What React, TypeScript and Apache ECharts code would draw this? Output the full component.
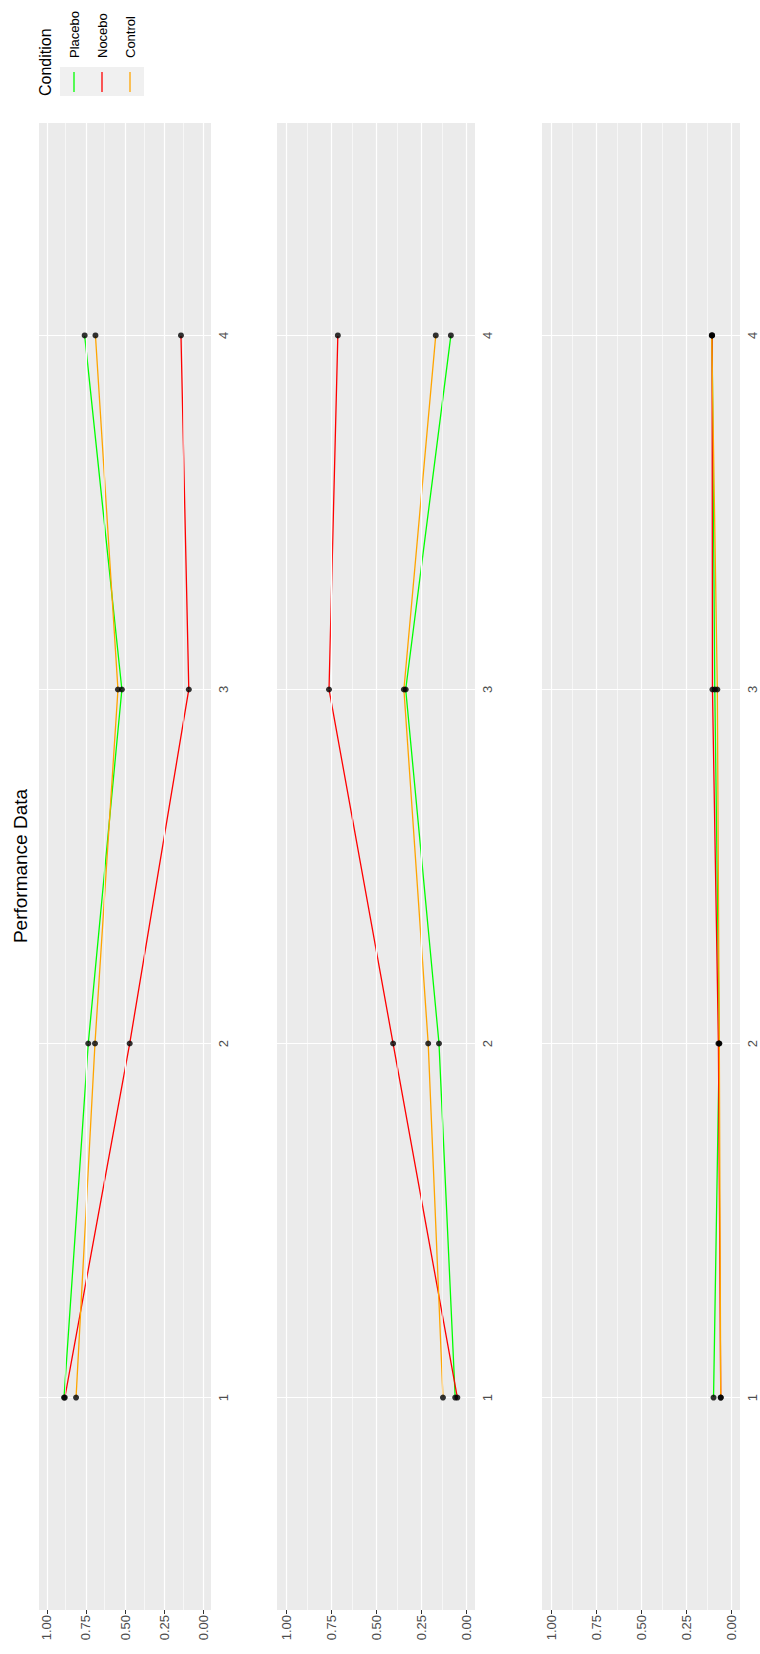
import React, { useEffect, useRef } from 'react';
import * as echarts from 'echarts';

// ---- data ----
const categories = [1, 2, 3, 4];
const valueTicks = [0, 0.25, 0.5, 0.75, 1];
const minorValueTicks = [0.125, 0.375, 0.625, 0.875];
const conditions = ['Placebo', 'Nocebo', 'Control'];
const conditionColors = ['#00FF00', '#FF0000', '#FFA500'];

const panel1Placebo = [0.89, 0.735, 0.52, 0.758];
const panel1Nocebo = [0.885, 0.47, 0.092, 0.142];
const panel1Control = [0.813, 0.692, 0.545, 0.689];

const panel2Placebo = [0.06, 0.15, 0.335, 0.084];
const panel2Nocebo = [0.048, 0.405, 0.761, 0.712];
const panel2Control = [0.128, 0.21, 0.345, 0.168];

const panel3Placebo = [0.097, 0.065, 0.09, 0.105];
const panel3Nocebo = [0.057, 0.07, 0.103, 0.105];
const panel3Control = [0.057, 0.065, 0.076, 0.107];

const panels = [
  [panel1Placebo, panel1Nocebo, panel1Control],
  [panel2Placebo, panel2Nocebo, panel2Control],
  [panel3Placebo, panel3Nocebo, panel3Control],
];

const titleText = 'Performance Data';
const legendTitle = 'Condition';

const FONT = '"Liberation Sans", Arial, Helvetica, sans-serif';

export default function App() {
  const ref = useRef<HTMLDivElement>(null);

  useEffect(() => {
    if (!ref.current) return;
    const chart = echarts.init(ref.current, undefined, { renderer: 'svg' });

    const gridBoxes = [
      { left: 39, top: 123, width: 172, height: 1487 },
      { left: 277, top: 123, width: 198, height: 1487 },
      { left: 542, top: 123, width: 198, height: 1487 },
    ];

    const grid = gridBoxes.map((g) => ({
      ...g,
      show: true,
      backgroundColor: '#EBEBEB',
      borderWidth: 0,
    }));

    const xAxis = gridBoxes.map((_, i) => ({
      type: 'value',
      gridIndex: i,
      min: -0.05,
      max: 1.05,
      inverse: true,
      axisLine: { show: false },
      splitLine: { show: false },
      axisTick: {
        show: true,
        customValues: valueTicks,
        length: 4,
        lineStyle: { color: '#333333', width: 1 },
      },
      axisLabel: {
        show: true,
        customValues: valueTicks,
        rotate: 90,
        margin: 5,
        color: '#4D4D4D',
        fontSize: 13,
        fontFamily: FONT,
        formatter: (v: number) => v.toFixed(2),
      },
    }));

    const yAxis = gridBoxes.map((_, i) => ({
      type: 'value',
      gridIndex: i,
      position: 'right',
      min: 0.4,
      max: 4.6,
      axisLine: { show: false },
      splitLine: { show: false },
      axisTick: {
        show: true,
        customValues: categories,
        length: 4,
        lineStyle: { color: '#333333', width: 1 },
      },
      axisLabel: {
        show: true,
        customValues: categories,
        rotate: 90,
        margin: 6,
        color: '#4D4D4D',
        fontSize: 13,
        fontFamily: FONT,
        formatter: (v: number) => String(v),
      },
    }));

    const series: any[] = [];
    gridBoxes.forEach((_, gi) => {
      // grid lines drawn as mark lines on the panel's own axes
      const lines: any[] = [];
      minorValueTicks.forEach((v) =>
        lines.push({ xAxis: v, lineStyle: { color: '#FFFFFF', width: 0.6, type: 'solid' } })
      );
      valueTicks.forEach((v) =>
        lines.push({ xAxis: v, lineStyle: { color: '#FFFFFF', width: 1.2, type: 'solid' } })
      );
      categories.forEach((c) =>
        lines.push({ yAxis: c, lineStyle: { color: '#FFFFFF', width: 1.2, type: 'solid' } })
      );
      series.push({
        type: 'line',
        xAxisIndex: gi,
        yAxisIndex: gi,
        data: [],
        z: 1,
        silent: true,
        markLine: {
          silent: true,
          symbol: ['none', 'none'],
          label: { show: false },
          emphasis: { disabled: true },
          animation: false,
          data: lines,
        },
      });
      panels[gi].forEach((vals, si) => {
        series.push({
          type: 'line',
          name: conditions[si],
          xAxisIndex: gi,
          yAxisIndex: gi,
          z: 3,
          data: vals.map((v, k) => [v, categories[k]]),
          showSymbol: false,
          symbol: 'none',
          lineStyle: { color: conditionColors[si], width: 1.3 },
          emphasis: { disabled: true },
        });
      });
      panels[gi].forEach((vals, si) => {
        series.push({
          type: 'scatter',
          name: conditions[si] + ' points',
          xAxisIndex: gi,
          yAxisIndex: gi,
          z: 5,
          data: vals.map((v, k) => [v, categories[k]]),
          symbol: 'circle',
          symbolSize: 6,
          itemStyle: { color: '#000000' },
          emphasis: { disabled: true },
        });
      });
    });

    const legendX = [74, 102, 130];
    const graphic: any[] = [
      {
        type: 'text',
        x: 20,
        y: 866,
        rotation: Math.PI / 2,
        style: {
          text: titleText,
          fontSize: 19,
          fontFamily: FONT,
          fill: '#000000',
          align: 'center',
          verticalAlign: 'middle',
        },
      },
      {
        type: 'text',
        x: 45,
        y: 96,
        rotation: Math.PI / 2,
        style: {
          text: legendTitle,
          fontSize: 16,
          fontFamily: FONT,
          fill: '#000000',
          align: 'left',
          verticalAlign: 'middle',
        },
      },
      {
        type: 'rect',
        shape: { x: 60, y: 67, width: 84, height: 29 },
        style: { fill: '#F0F0F0' },
      },
    ];
    conditions.forEach((c, i) => {
      graphic.push({
        type: 'line',
        shape: { x1: legendX[i], y1: 72, x2: legendX[i], y2: 92 },
        style: { stroke: conditionColors[i], lineWidth: 1.3 },
      });
      graphic.push({
        type: 'text',
        x: legendX[i],
        y: 58,
        rotation: Math.PI / 2,
        style: {
          text: c,
          fontSize: 13,
          fontFamily: FONT,
          fill: '#000000',
          align: 'left',
          verticalAlign: 'middle',
        },
      });
    });

    chart.setOption({
      animation: false,
      backgroundColor: '#FFFFFF',
      grid,
      xAxis,
      yAxis,
      series,
      graphic,
    });

    return () => chart.dispose();
  }, []);

  return (
    <div
      ref={ref}
      style={{ position: 'absolute', left: 0, top: 0, width: 760, height: 1654 }}
    />
  );
}
